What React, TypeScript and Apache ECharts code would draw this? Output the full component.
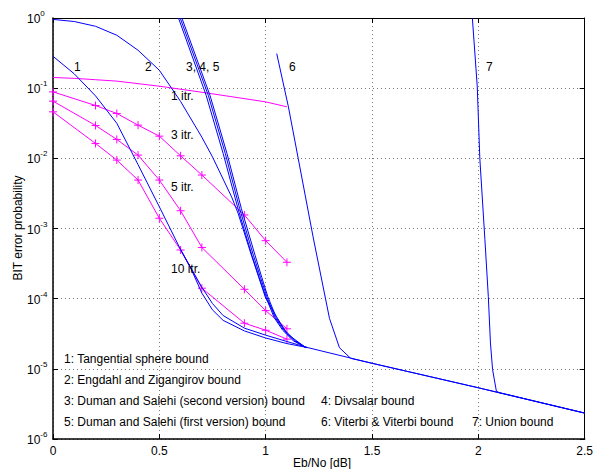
import React, { useEffect, useRef } from "react";
import * as echarts from "echarts";

const FONT = "'Liberation Sans', Arial, Helvetica, sans-serif";
const BLUE = "#0000ff";
const MAGENTA = "#ff00ff";

const xTicks = [0, 0.5, 1, 1.5, 2, 2.5];
const yMin = 1e-6;
const yMax = 1;

// Shared error-floor (the bounds converge on it)
const floorX = [1.5, 2.0, 2.5];
const floorY = [1.2e-5, 5.37e-6, 2.34e-6];

// 1: Tangential sphere bound (two traces visible)
const tsbX = [0, 0.1, 0.2, 0.3, 0.4, 0.5, 0.6, 0.7, 0.75, 0.8, 0.9, 1.0, 1.1, 1.2];
const tsbY = [0.285, 0.16, 0.0776, 0.0316, 8.13e-3, 2.04e-3, 5.01e-4, 1.45e-4, 8.51e-5, 5.75e-5, 3.8e-5, 3.02e-5, 2.45e-5, 2.0e-5];
const tsbBX = [0.6, 0.65, 0.7, 0.75, 0.8, 0.9, 1.0, 1.1, 1.2];
const tsbBY = [5.01e-4, 2.63e-4, 1.2e-4, 6.92e-5, 4.9e-5, 3.47e-5, 2.75e-5, 2.29e-5, 2.0e-5];

// 2: Engdahl and Zigangirov bound
const ezX = [0, 0.1, 0.2, 0.3, 0.4, 0.5, 0.6, 0.7, 0.75, 0.84, 0.87, 0.935, 0.97, 1.0, 1.05, 1.1, 1.19];
const ezY = [0.955, 0.891, 0.762, 0.568, 0.347, 0.18, 0.0646, 0.02, 0.01047, 2.82e-3, 1.66e-3, 3.98e-4, 1.91e-4, 1.02e-4, 5.62e-5, 3.16e-5, 2.0e-5];

// 3, 4, 5: Duman & Salehi (2nd), Divsalar, Duman & Salehi (1st)
const ds2X = [0.59, 0.72, 0.8, 0.87, 0.935, 0.97, 1.0, 1.04, 1.08, 1.13, 1.19];
const ds2Y = [1.0, 0.0794, 0.01175, 1.91e-3, 4.17e-4, 2.0e-4, 1.07e-4, 5.37e-5, 3.55e-5, 2.51e-5, 2.0e-5];
const divX = [0.598, 0.73, 0.81, 0.878, 0.942, 0.976, 1.005, 1.045, 1.085, 1.135, 1.19];
const divY = [1.0, 0.0794, 0.01175, 1.91e-3, 4.17e-4, 2.0e-4, 1.07e-4, 5.37e-5, 3.55e-5, 2.51e-5, 2.0e-5];
const ds1X = [0.606, 0.738, 0.818, 0.886, 0.95, 0.982, 1.01, 1.05, 1.09, 1.14, 1.19];
const ds1Y = [1.0, 0.0794, 0.01175, 1.91e-3, 4.17e-4, 2.0e-4, 1.07e-4, 5.37e-5, 3.55e-5, 2.51e-5, 2.0e-5];

// 6: Viterbi & Viterbi bound
const vvX = [1.052, 1.107, 1.153, 1.223, 1.3, 1.347, 1.4];
const vvY = [0.311, 0.0542, 0.01, 7.59e-4, 5.25e-5, 2.0e-5, 1.41e-5];

// 7: Union bound
const ubX = [1.972, 1.995, 2.007, 2.031, 2.047, 2.057, 2.067, 2.085, 2.1, 2.5];
const ubY = [1.0, 0.105, 0.01, 6.92e-4, 1.07e-4, 2.34e-5, 9.77e-6, 4.79e-6, 4.57e-6, 2.34e-6];

// Simulations (iterative decoding)
const it1X = [0, 0.1, 0.2, 0.3, 0.5, 0.72, 1.0, 1.1];
const it1Y = [0.142, 0.138, 0.132, 0.126, 0.1067, 0.0857, 0.0638, 0.0542];
const itX = [0, 0.2, 0.3, 0.4, 0.5, 0.6, 0.7, 0.9, 1.0, 1.1];
const it3Y = [0.0885, 0.0566, 0.0436, 0.0297, 0.0207, 0.01086, 5.78e-3, 1.56e-3, 6.71e-4, 3.3e-4];
const it5Y = [0.0653, 0.0294, 0.0186, 0.01112, 4.9e-3, 1.79e-3, 5.37e-4, 1.36e-4, 6.76e-5, 3.72e-5];
const it10Y = [0.046, 0.0163, 9.44e-3, 4.9e-3, 1.4e-3, 4.94e-4, 1.41e-4, 4.47e-5, 3.55e-5, 2.65e-5];

const curveLabels = [
  { t: "1", x: 74, y: 67 },
  { t: "2", x: 145, y: 67 },
  { t: "3, 4, 5", x: 186, y: 67 },
  { t: "6", x: 289, y: 67 },
  { t: "7", x: 486, y: 67 },
  { t: "1 itr.", x: 171, y: 96 },
  { t: "3 itr.", x: 171, y: 135 },
  { t: "5 itr.", x: 171, y: 187 },
  { t: "10 itr.", x: 171, y: 269 },
];

const legendTexts = [
  { t: "1: Tangential sphere bound", x: 64, y: 359 },
  { t: "2: Engdahl and Zigangirov bound", x: 64, y: 380 },
  { t: "3: Duman and Salehi (second version) bound", x: 64, y: 401 },
  { t: "5: Duman and Salehi (first version) bound", x: 64, y: 422 },
  { t: "4: Divsalar bound", x: 321, y: 401 },
  { t: "6: Viterbi & Viterbi bound", x: 321, y: 422 },
  { t: "7: Union bound", x: 472, y: 422 },
];

const pts = (xs: number[], ys: number[]) => xs.map((v, i) => [v, ys[i]]);
const withFloor = (xs: number[], ys: number[]) => pts(xs.concat(floorX), ys.concat(floorY));

const PLUS = "path://M0,5L10,5M5,0L5,10";

function blue(name: string, data: number[][]) {
  return {
    name,
    type: "line",
    data,
    showSymbol: false,
    symbol: "none",
    lineStyle: { color: BLUE, width: 1 },
    itemStyle: { color: BLUE },
    z: 3,
  };
}

function magenta(name: string, data: number[][], markers: boolean) {
  return {
    name,
    type: "line",
    data,
    showSymbol: markers,
    symbol: markers ? PLUS : "none",
    symbolSize: 8,
    lineStyle: { color: MAGENTA, width: 1 },
    itemStyle: { color: "transparent", borderColor: MAGENTA, borderWidth: 1 },
    z: 2,
  };
}

export default function App() {
  const ref = useRef<HTMLDivElement>(null);
  useEffect(() => {
    if (!ref.current) return;
    const chart = echarts.init(ref.current, undefined, { renderer: "svg" });
    const gridLine = { show: true, lineStyle: { color: "#777", type: [1, 3], width: 1 } };
    const option: any = {
      animation: false,
      backgroundColor: "#ffffff",
      grid: { left: 53, right: 8, top: 18, bottom: 30, show: false },
      xAxis: [
        {
          type: "value",
          min: 0,
          max: 2.5,
          interval: 0.5,
          position: "bottom",
          axisLine: { show: true, lineStyle: { color: "#000", width: 1.5 } },
          axisTick: { show: true, inside: true, length: 5, lineStyle: { color: "#000" } },
          axisLabel: {
            show: true,
            margin: 6,
            color: "#000",
            fontSize: 12,
            fontFamily: FONT,
            formatter: (v: number) => (xTicks.indexOf(v) >= 0 ? String(v) : ""),
          },
          splitLine: gridLine,
        },
        {
          type: "value",
          min: 0,
          max: 2.5,
          interval: 0.5,
          position: "top",
          axisLine: { show: true, onZero: false, lineStyle: { color: "#000", width: 1 } },
          axisTick: { show: true, inside: true, length: 5, lineStyle: { color: "#000" } },
          axisLabel: { show: false },
          splitLine: { show: false },
        },
      ],
      yAxis: [
        {
          type: "log",
          logBase: 10,
          min: yMin,
          max: yMax,
          splitNumber: 6,
          position: "left",
          axisLine: { show: true, lineStyle: { color: "#000", width: 1.5 } },
          axisTick: { show: true, inside: true, length: 5, lineStyle: { color: "#000" } },
          minorTick: { show: false },
          axisLabel: {
            show: true,
            align: "left",
            margin: 26,
            color: "#000",
            formatter: (v: number) => {
              const e = Math.round(Math.log10(v));
              return "{b|10}{s|" + String(e) + "}";
            },
            rich: {
              b: { fontSize: 12, fontFamily: FONT, color: "#000", padding: [2, 0, 0, 0] },
              s: { fontSize: 8, fontFamily: FONT, color: "#000", padding: [0, 0, 9, 0] },
            },
          },
          splitLine: gridLine,
        },
        {
          type: "log",
          logBase: 10,
          min: yMin,
          max: yMax,
          splitNumber: 6,
          position: "right",
          axisLine: { show: true, onZero: false, lineStyle: { color: "#000", width: 1 } },
          axisTick: { show: true, inside: true, length: 5, lineStyle: { color: "#000" } },
          axisLabel: { show: false },
          splitLine: { show: false },
        },
      ],
      series: [
        magenta("1 itr.", pts(it1X, it1Y), false),
        magenta("3 itr.", pts(itX, it3Y), true),
        magenta("5 itr.", pts(itX, it5Y), true),
        magenta("10 itr.", pts(itX, it10Y), true),
        blue("1: Tangential sphere bound", withFloor(tsbX, tsbY)),
        blue("1: Tangential sphere bound (b)", pts(tsbBX, tsbBY)),
        blue("2: Engdahl and Zigangirov bound", pts(ezX, ezY)),
        blue("3: Duman and Salehi (second version) bound", pts(ds2X, ds2Y)),
        blue("4: Divsalar bound", pts(divX, divY)),
        blue("5: Duman and Salehi (first version) bound", pts(ds1X, ds1Y)),
        blue("6: Viterbi & Viterbi bound", withFloor(vvX, vvY)),
        blue("7: Union bound", pts(ubX, ubY)),
      ],
      graphic: [
        ...curveLabels.concat(legendTexts).map((l) => ({
          type: "text",
          x: l.x,
          y: l.y,
          z: 10,
          style: {
            text: l.t,
            fontSize: 12,
            fontFamily: FONT,
            fill: "#000",
            align: "left",
            verticalAlign: "middle",
          },
        })),
        {
          type: "text",
          x: 322,
          y: 463,
          style: {
            text: "Eb/No [dB]",
            fontSize: 12,
            fontFamily: FONT,
            fill: "#000",
            align: "center",
            verticalAlign: "middle",
          },
        },
        {
          type: "text",
          x: 18,
          y: 228,
          rotation: Math.PI / 2,
          style: {
            text: "BIT error probability",
            fontSize: 12,
            fontFamily: FONT,
            fill: "#000",
            align: "center",
            verticalAlign: "middle",
          },
        },
      ],
    };
    chart.setOption(option);
    return () => chart.dispose();
  }, []);
  return (
    <div
      ref={ref}
      style={{ position: "fixed", left: 0, top: 0, width: 596, height: 469, background: "#fff" }}
    />
  );
}
